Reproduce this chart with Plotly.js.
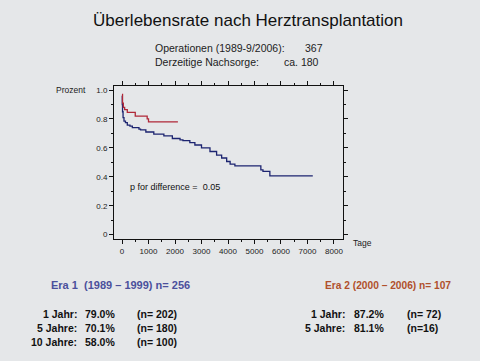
<!DOCTYPE html>
<html>
<head>
<meta charset="utf-8">
<script src="https://cdn.plot.ly/plotly-3.0.1.min.js"></script>
<style>
html,body{margin:0;padding:0;background:#e5e7e9;}
#chart{width:480px;height:361px;}
</style>
</head>
<body>
<div id="chart"></div>
<script>
// ---- data ----
const era1Days = [0, 10, 20, 40, 75, 130, 200, 300, 390, 640, 700, 900, 1200, 1580, 1900, 2190, 2300, 2560, 2750, 3000, 3320, 3570, 3760, 3950, 4080, 4260, 5240, 5320, 5580, 7200];
const era1Surv = [0.96, 0.90, 0.85, 0.81, 0.785, 0.775, 0.757, 0.75, 0.74, 0.73, 0.725, 0.71, 0.695, 0.683, 0.665, 0.655, 0.65, 0.637, 0.62, 0.60, 0.575, 0.55, 0.53, 0.506, 0.488, 0.476, 0.448, 0.437, 0.407, 0.407];
const era2Days = [0, 20, 50, 100, 200, 500, 950, 1000, 2110];
const era2Surv = [0.97, 0.91, 0.88, 0.865, 0.845, 0.82, 0.80, 0.78, 0.78];

const xTickVals = [0, 1000, 2000, 3000, 4000, 5000, 6000, 7000, 8000];
const xTickText = ["0", "1000", "2000", "3000", "4000", "5000", "6000", "7000", "8000"];
const yTickVals = [0, 0.2, 0.4, 0.6, 0.8, 1.0];
const yTickText = ["0", "0.2", "0.4", "0.6", "0.8", "1.0"];

const era1Labels = ["1 Jahr:", "5 Jahre:", "10 Jahre:"];
const era1Pct = ["79.0%", "70.1%", "58.0%"];
const era1N = ["(n= 202)", "(n= 180)", "(n= 100)"];
const era2Labels = ["1 Jahr:", "5 Jahre:"];
const era2Pct = ["87.2%", "81.1%"];
const era2N = ["(n= 72)", "(n=16)"];

// ---- layout helpers (pixel -> paper) ----
const W = 480, H = 361;
const L = 114, R = 343, T = 86, B = 239;
const px = x => (x - L) / (R - L);
const py = y => (B - y) / (B - T);

const SANS = "Liberation Sans, Arial, sans-serif";

function ann(text, x, y, opts) {
  return Object.assign({
    text: text, xref: "paper", yref: "paper", x: px(x), y: py(y),
    xanchor: "left", yanchor: "middle", showarrow: false,
    font: {family: SANS, size: 10, color: "#111"}
  }, opts || {});
}

const annotations = [
  ann("Operationen (1989-9/2006):", 153, 48, {font: {family: SANS, size: 10.5, color: "#222"}}),
  ann("367", 303, 48, {font: {family: SANS, size: 10.5, color: "#222"}}),
  ann("Derzeitige Nachsorge:", 153, 62, {font: {family: SANS, size: 10.5, color: "#222"}}),
  ann("ca. 180", 282, 62, {font: {family: SANS, size: 10.5, color: "#222"}}),
  ann("Prozent", 88, 90, {xanchor: "right", font: {family: SANS, size: 8.5, color: "#222"}}),
  ann("Tage", 351, 243, {font: {family: SANS, size: 8.5, color: "#222"}}),
  ann("p for difference =  0.05", 128, 187, {font: {family: SANS, size: 9, color: "#111"}}),
  ann("<b>Era 1  (1989 – 1999) n= 256</b>", 49, 285, {font: {family: SANS, size: 11, color: "#4b509c"}}),
  ann("<b>Era 2 (2000 – 2006) n= 107</b>", 323, 285, {font: {family: SANS, size: 10.2, color: "#b0502c"}})
];
const rowY = [314, 328, 342];
const f = {family: SANS, size: 10.5, color: "#111"};
era1Labels.forEach((t, i) => {
  annotations.push(ann("<b>" + t + "</b>", 79, rowY[i], {xanchor: "right", font: f}));
  annotations.push(ann("<b>" + era1Pct[i] + "</b>", 83, rowY[i], {font: f}));
  annotations.push(ann("<b>" + era1N[i] + "</b>", 135, rowY[i], {font: f}));
});
era2Labels.forEach((t, i) => {
  annotations.push(ann("<b>" + t + "</b>", 347, rowY[i], {xanchor: "right", font: f}));
  annotations.push(ann("<b>" + era2Pct[i] + "</b>", 352, rowY[i], {font: f}));
  annotations.push(ann("<b>" + era2N[i] + "</b>", 405, rowY[i], {font: f}));
});

const traces = [
  {x: era1Days, y: era1Surv, type: "scatter", mode: "lines", line: {shape: "hv", color: "#1c2470", width: 1.3}, hoverinfo: "skip"},
  {x: era2Days, y: era2Surv, type: "scatter", mode: "lines", line: {shape: "hv", color: "#b02838", width: 1.3}, hoverinfo: "skip"}
];

const axisCommon = {
  showgrid: false, zeroline: false, showline: true, linecolor: "#111", linewidth: 1,
  mirror: "allticks", ticks: "outside", ticklen: 4, tickcolor: "#111", tickwidth: 1,
  tickfont: {family: SANS, size: 8, color: "#222"}, tickmode: "array"
};

const layout = {
  width: W, height: H,
  paper_bgcolor: "#e5e7e9", plot_bgcolor: "rgba(0,0,0,0)",
  margin: {l: L, r: W - R, t: T, b: H - B, pad: 0},
  showlegend: false,
  title: {text: "Überlebensrate nach Herztransplantation", x: 248 / W, xanchor: "center",
          y: 1 - 20 / H, yanchor: "middle", yref: "container", xref: "container",
          font: {family: SANS, size: 17, color: "#111"}},
  xaxis: Object.assign({}, axisCommon, {range: [-302, 8340], tickvals: xTickVals, ticktext: xTickText,
          minor: {ticks: "outside", ticklen: 2, tickcolor: "#111", dtick: 500, tick0: 0}}),
  yaxis: Object.assign({}, axisCommon, {range: [-0.03, 1.028], tickvals: yTickVals, ticktext: yTickText,
          minor: {ticks: "outside", ticklen: 2, tickcolor: "#111", dtick: 0.1, tick0: 0}}),
  annotations: annotations
};

Plotly.newPlot("chart", traces, layout, {staticPlot: true, displayModeBar: false});
</script>
</body>
</html>
